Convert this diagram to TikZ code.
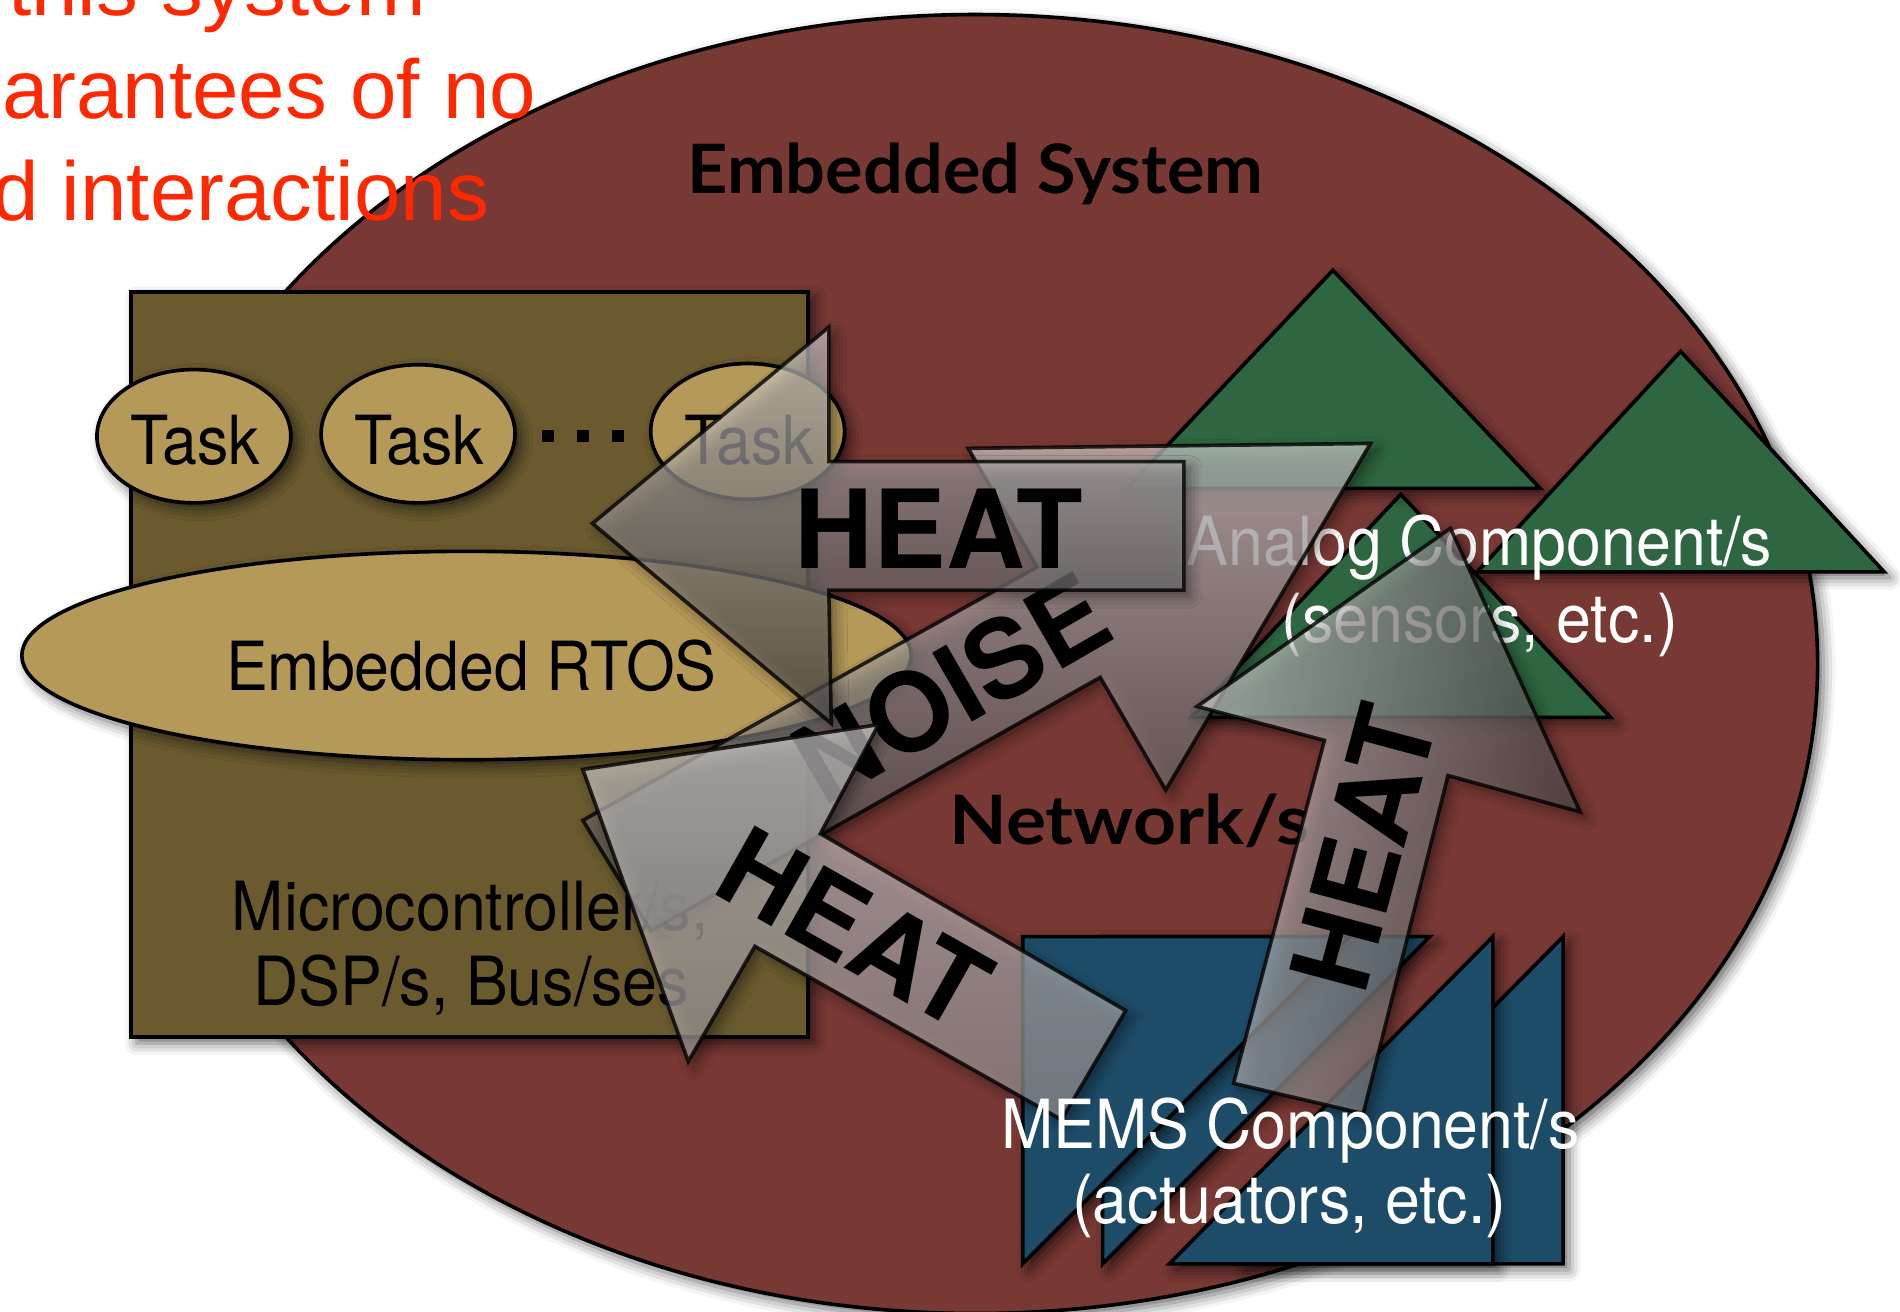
\documentclass[tikz,border=0pt]{standalone}
\usepackage{fontspec}
\usepackage{graphicx}
\usetikzlibrary{shadows.blur}
\setmainfont{TeX Gyre Heros}
\newfontfamily\alarmfont{Liberation Sans}
\newfontfamily\titlefont{Lato}
\newcommand{\slimtext}[1]{\scalebox{0.925}[1]{#1}}

\definecolor{sysred}{RGB}{120,56,52}
\definecolor{mcuolive}{RGB}{106,90,46}
\definecolor{tasktan}{RGB}{181,153,88}
\definecolor{analoggreen}{RGB}{45,102,64}
\definecolor{memsblue}{RGB}{29,76,104}
\definecolor{alarmred}{RGB}{255,40,0}
\definecolor{arrowlight}{RGB}{232,229,229}
\definecolor{arrowdark}{RGB}{80,76,76}
\definecolor{arrowmid}{RGB}{175,170,170}

\begin{document}
\begin{tikzpicture}[x=0.01cm, y=-0.01cm,
  edgeline/.style={draw=black, line width=0.85pt, line join=miter},
  dropshadow/.style={blur shadow={shadow xshift=1.4pt, shadow yshift=-1.4pt, shadow blur radius=2.8pt, shadow opacity=60}},
  softshadow/.style={blur shadow={shadow xshift=1.4pt, shadow yshift=-1.4pt, shadow blur radius=2.8pt, shadow opacity=45}},
  lighttext/.style={inner sep=0pt, anchor=base, font=\fontsize{15.9}{19}\selectfont},
  boldtag/.style={inner sep=0pt, anchor=base, font=\titlefont\bfseries\fontsize{16}{19}\selectfont},
  redline/.style={inner sep=0pt, anchor=base west, text=alarmred, font=\alarmfont\fontsize{19.6}{24}\selectfont},
  heatword/.style={inner sep=0pt, font=\bfseries\fontsize{25.6}{29}\selectfont},
  heatarrow/.style={draw=black, draw opacity=0.8, line width=0.85pt, line join=miter,
    fill opacity=0.6, top color=arrowlight, bottom color=arrowdark, softshadow},
]
\useasboundingbox (0,0) rectangle (1568,1082);
\clip (0,0) rectangle (1568,1082);

% the embedded system
\draw[edgeline, fill=sysred, dropshadow] (805,548) ellipse [x radius=695, y radius=536];

% heading text in the corner
\node[redline] (redA) at (6,13) {this system};
\node[redline] (redB) at (1,98) {arantees of no};
\node[redline] (redC) at (-7,182) {d interactions};

\node[boldtag] (systitle) at (805,160) {\scalebox{1.03}[1]{Embedded System}};

% microcontroller board
\draw[edgeline, fill=mcuolive, dropshadow] (108,241) rectangle (667,856);
\draw[edgeline, fill=tasktan, dropshadow] (160,360) ellipse [x radius=80, y radius=55];
\draw[edgeline, fill=tasktan, dropshadow] (345,358) ellipse [x radius=80, y radius=57];
\draw[edgeline, fill=tasktan, dropshadow] (617,356) ellipse [x radius=80, y radius=56];
\node[lighttext] (task1) at (161,383) {\slimtext{Task}};
\node[lighttext] (task2) at (346,383) {\slimtext{Task}};
\node[lighttext] (task3) at (618,383) {\slimtext{Task}};
\fill (447,355) rectangle (457,365);
\fill (476,355) rectangle (486,365);
\fill (505,355) rectangle (515,365);

\draw[edgeline, fill=tasktan, dropshadow] (385,541) ellipse [x radius=367, y radius=86];
\node[lighttext] (rtos) at (389,570) {\slimtext{Embedded RTOS}};
\node[lighttext] (mcu1) at (388,768) {\slimtext{Microcontroller/s,}};
\node[lighttext] (mcu2) at (389,830) {\slimtext{DSP/s, Bus/ses}};

\node[boldtag] (net) at (932,697) {\scalebox{1.1}[1]{Network/s}};

% analog components
\draw[edgeline, fill=analoggreen, dropshadow] (1156,408) -- (1329,592) -- (983,592) -- cycle;
\draw[edgeline, fill=analoggreen, dropshadow] (1100,223) -- (1271,403) -- (930,403) -- cycle;
\draw[edgeline, fill=analoggreen, dropshadow] (1387,290) -- (1555,472) -- (1219,472) -- cycle;
\node[lighttext, text=white] (analog1) at (1221,467) {\slimtext{Analog Component/s}};
\node[lighttext, text=white] (analog2) at (1221,530) {\slimtext{(sensors, etc.)}};

% MEMS components
\draw[edgeline, fill=memsblue, dropshadow] (1023,1043) -- (1290,773) -- (1290,1043) -- cycle;
\draw[edgeline, fill=memsblue, dropshadow] (965,1043) -- (1232,773) -- (1232,1043) -- cycle;
\draw[edgeline, fill=memsblue, dropshadow] (910,773) -- (1180,773) -- (910,1043) -- cycle;
\draw[edgeline, fill=memsblue, dropshadow] (844,773) -- (1114,773) -- (844,1043) -- cycle;

% interaction arrows
\draw[heatarrow, shading angle=0]
  (481,677) -- (856,468) -- (799,370) -- (1131,366) -- (962,652) -- (908,559) -- (537,768) -- cycle;
\node[heatword, rotate=30] (noise) at (785,568) {NOISE};

\draw[heatarrow, shading angle=0]
  (489,432) -- (684,270) -- (684,381) -- (977,381) -- (977,487) -- (684,487) -- (686,597) -- cycle;
\node[heatword] (heatA) at (775,436) {HEAT};

\draw[heatarrow, shading angle=80]
  (1197,436) -- (1304,670) -- (1195,640) -- (1125,919) -- (1018,894) -- (1093,611) -- (988,583) -- cycle;
\node[heatword, rotate=75] (heatC) at (1125,700) {HEAT};

\draw[heatarrow, shading angle=60, bottom color=arrowmid]
  (481,635) -- (725,598) -- (677,688) -- (929,834) -- (876,924) -- (623,781) -- (568,876) -- cycle;
\node[heatword, rotate=-29.5] (heatB) at (705,766) {HEAT};

\node[lighttext, text=white] (mems1) at (1065,948) {\slimtext{MEMS Component/s}};
\node[lighttext, text=white] (mems2) at (1064,1010) {\slimtext{(actuators, etc.)}};
\end{tikzpicture}
\end{document}
